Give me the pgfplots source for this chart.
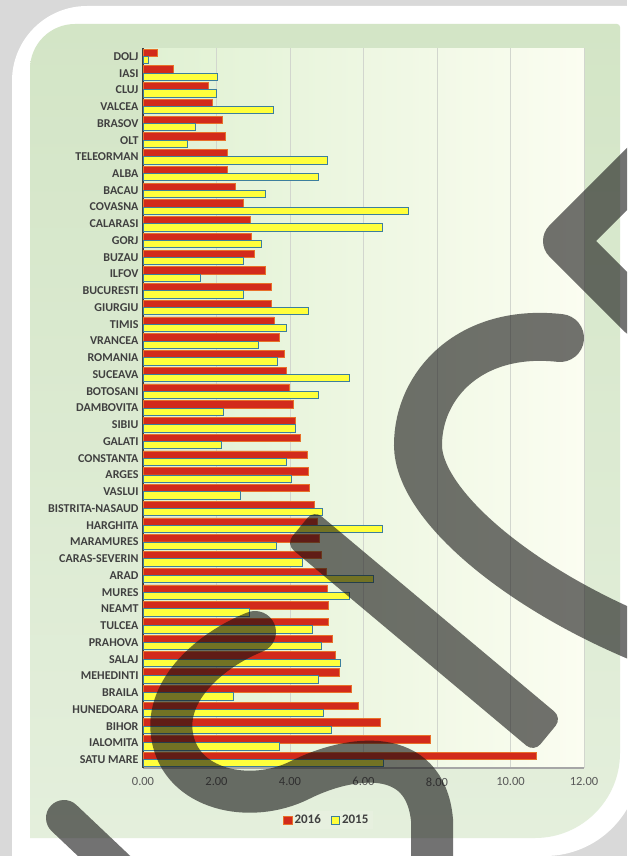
\documentclass[border=0pt]{standalone}
\usepackage{fontspec}
\setmainfont{Carlito}
\usepackage{pgfplots}
\usepackage{pgfplotstable}
\pgfplotsset{compat=1.18}

\definecolor{bggray}{HTML}{D9D9D9}
\definecolor{outerA}{HTML}{D3E5C6}
\definecolor{outerB}{HTML}{E4EFDC}
\definecolor{innerL}{HTML}{E0F1D3}
\definecolor{innerR}{HTML}{FBFDF1}
\definecolor{gridc}{HTML}{D2D6CE}
\definecolor{red16}{HTML}{D22A1B}
\definecolor{red16e}{HTML}{E8702A}
\definecolor{yel15}{HTML}{FFFF3C}
\definecolor{yel15e}{HTML}{3C7F9E}
\definecolor{labc}{HTML}{404040}
\definecolor{tickc}{HTML}{595959}
\definecolor{legf}{HTML}{E7F0DF}
\definecolor{wm}{HTML}{141414}

% values per county: 2016, 2015
\pgfplotstableread{
idx y16 y15
0 0.39 0.14
1 0.82 2.02
2 1.77 2.00
3 1.90 3.56
4 2.15 1.43
5 2.23 1.22
6 2.30 5.02
7 2.30 4.77
8 2.52 3.34
9 2.74 7.23
10 2.91 6.52
11 2.94 3.22
12 3.03 2.74
13 3.33 1.57
14 3.50 2.74
15 3.50 4.49
16 3.57 3.89
17 3.70 3.13
18 3.85 3.65
19 3.91 5.63
20 3.99 4.77
21 4.09 2.20
22 4.14 4.14
23 4.28 2.14
24 4.46 3.90
25 4.49 4.03
26 4.53 2.64
27 4.66 4.87
28 4.75 6.52
29 4.80 3.62
30 4.85 4.33
31 4.98 6.26
32 5.01 5.63
33 5.05 2.90
34 5.05 4.60
35 5.16 4.85
36 5.24 5.37
37 5.34 4.77
38 5.68 2.47
39 5.87 4.90
40 6.46 5.12
41 7.82 3.72
42 10.70 6.53
}\data

\begin{document}
\begin{tikzpicture}
\clip (0pt,0pt) rectangle (627pt,-856pt);
\fill[bggray] (0pt,0pt) rectangle (627pt,-856pt);
\begin{scope}[x=1pt,y=-1pt]
  % white frame
  \fill[white] (12,870) [rounded corners=75pt] -- (12,6) [sharp corners] -- (640,6)
     [rounded corners=95pt] -- (640,856) [sharp corners] -- (12,856) -- cycle;
  % green chart area
  \shade[top color=outerA, bottom color=outerB]
     (30,838) [rounded corners=45pt] -- (30,24) [rounded corners=3pt] -- (620,24)
     [rounded corners=85pt] -- (620,838) [sharp corners] -- cycle;
\end{scope}

\begin{axis}[
  at={(143pt,-768pt)}, anchor=south west,
  scale only axis, width=441pt, height=720pt,
  xbar, bar width=7.3pt,
  xmin=0, xmax=12, xtick={0,2,...,12},
  ymin=-0.5, ymax=42.5, y dir=reverse,
  ytick={0,...,42},
  yticklabels={DOLJ,IASI,CLUJ,VALCEA,BRASOV,OLT,TELEORMAN,ALBA,BACAU,COVASNA,CALARASI,GORJ,BUZAU,ILFOV,BUCURESTI,GIURGIU,TIMIS,VRANCEA,ROMANIA,SUCEAVA,BOTOSANI,DAMBOVITA,SIBIU,GALATI,CONSTANTA,ARGES,VASLUI,BISTRITA-NASAUD,HARGHITA,MARAMURES,CARAS-SEVERIN,ARAD,MURES,NEAMT,TULCEA,PRAHOVA,SALAJ,MEHEDINTI,BRAILA,HUNEDOARA,BIHOR,IALOMITA,SATU MARE},
  axis lines=left, axis line style={-},
  x axis line style={color=black!35, line width=2.5pt},
  y axis line style={color=labc, line width=1.2pt},
  major tick length=0pt,
  xmajorgrids, grid style={color=gridc, line width=0.8pt},
  axis background/.style={left color=innerL, right color=innerR},
  /pgf/number format/.cd, fixed, fixed zerofill, precision=2, assume math mode=true,
  /pgfplots/.cd,
  xticklabel style={font=\fontsize{12.5}{14}\selectfont, text=tickc, yshift=-6pt},
  yticklabel style={font=\fontsize{12}{13}\selectfont\bfseries, text=labc, xshift=-1pt},
  legend style={at={(0.417,-0.072)}, anchor=center, legend columns=2,
    draw=none, fill=legf, font=\fontsize{13}{14}\selectfont\bfseries, text=labc,
    /tikz/every even column/.append style={column sep=8pt}},
  legend image code/.code={\draw[#1, line width=0.6pt] (0pt,-4pt) rectangle (8.5pt,4pt);},
]
\addplot[fill=red16, draw=red16e, line width=0.8pt, bar shift=3.65pt] table[y=idx, x=y16]{\data};
\addplot[fill=yel15, draw=yel15e, line width=0.9pt, bar shift=-3.65pt] table[y=idx, x=y15]{\data};
\legend{2016,2015}
\end{axis}

% dark watermark strokes
\begin{scope}[x=1pt,y=-1pt]
  \draw[wm, opacity=0.6, line width=44pt, line cap=round, line join=round]
     (643,163) -- (565,241) -- (640,316);
  \draw[wm, opacity=0.6, line width=48pt, line cap=round]
     (560,338) .. controls (470,328) and (418,385) .. (418,445)
     .. controls (418,505) and (520,590) .. (650,642);
  \fill[wm, opacity=0.6, rounded corners=10pt]
     (314,510) -- (562,718) -- (534,752) -- (286,544) -- cycle;
  \draw[wm, opacity=0.6, line width=42pt, line cap=round]
     (255,632) .. controls (210,650) and (165,690) .. (172,735)
     .. controls (180,790) and (250,805) .. (300,780)
     .. controls (350,755) and (425,745) .. (432,820) -- (432,880);
  \draw[wm, opacity=0.6, line width=36pt, line cap=round]
     (64,818) -- (140,890);
\end{scope}
\end{tikzpicture}
\end{document}
